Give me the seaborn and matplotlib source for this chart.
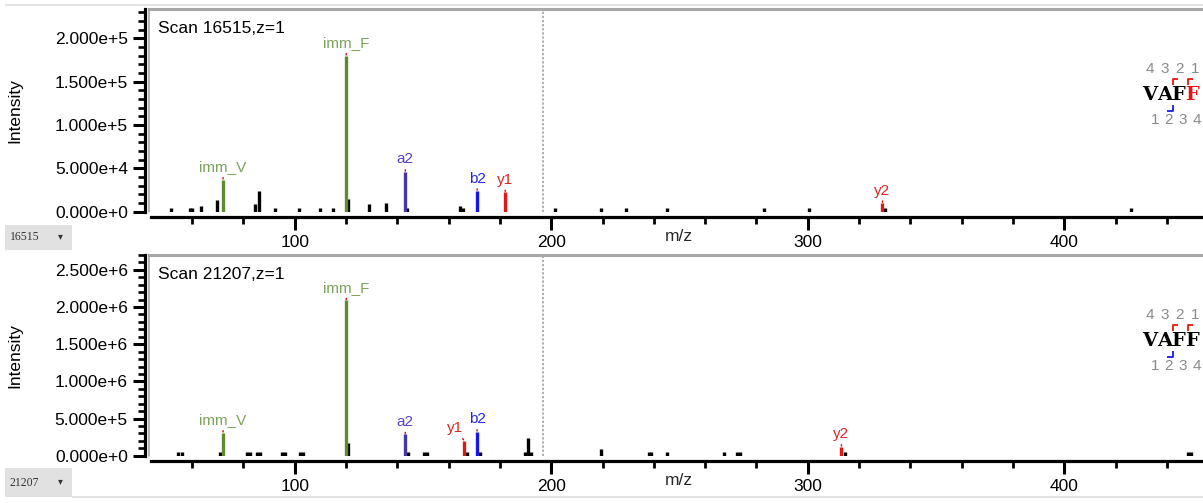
import matplotlib
matplotlib.use("Agg")
import numpy as np
import pandas as pd
import seaborn as sns
import matplotlib.pyplot as plt
from matplotlib.ticker import MultipleLocator, FuncFormatter
from matplotlib.lines import Line2D
from matplotlib.patches import Rectangle

# ---------------- data ----------------
top_scan = "Scan 16515,z=1"
top_id = "16515"
top_other_mz = [51.9, 59.3, 60.1, 63.4, 69.7, 84.4, 86.0, 92.3, 101.7, 109.7, 115.0,
                120.9, 128.8, 135.7, 143.9, 164.6, 165.8, 201.4, 219.3, 229.3, 245.3,
                283.0, 300.4, 330.0, 426.2]
top_other_int = [4.6e3, 4.6e3, 4.6e3, 6.5e3, 1.34e4, 8.4e3, 2.4e4, 4.6e3, 4.6e3, 4.6e3, 4.6e3,
                 1.5e4, 8.4e3, 1.03e4, 4.6e3, 6.5e3, 4.0e3, 4.6e3, 4.6e3, 4.6e3, 4.6e3,
                 4.6e3, 4.6e3, 4.6e3, 4.6e3]
top_ion_label = ["imm_V", "imm_F", "a2", "b2", "y1", "y2"]
top_ion_mz = [72.08, 120.08, 143.12, 171.11, 182.08, 329.15]
top_ion_int = [3.7e4, 1.8e5, 4.6e4, 2.4e4, 2.25e4, 1.0e4]

bot_scan = "Scan 21207,z=1"
bot_id = "21207"
bot_other_mz = [54.6, 55.9, 71.0, 81.3, 82.4, 85.4, 86.6, 95.2, 96.4, 102.2, 103.4,
                120.9, 144.0, 150.4, 151.4, 167.0, 172.1, 189.9, 191.0, 192.1, 219.3,
                238.0, 239.0, 245.3, 267.4, 272.6, 273.7, 314.4, 448.4, 449.4]
bot_other_int = [5.4e4, 5.4e4, 5.4e4, 5.4e4, 5.4e4, 5.4e4, 5.4e4, 5.4e4, 5.4e4, 5.4e4, 5.4e4,
                 1.65e5, 5.4e4, 5.4e4, 5.4e4, 5.4e4, 5.4e4, 5.4e4, 2.42e5, 5.4e4, 8.5e4,
                 5.4e4, 5.4e4, 5.4e4, 5.4e4, 5.4e4, 5.4e4, 5.4e4, 5.4e4, 5.4e4]
bot_ion_label = ["imm_V", "imm_F", "a2", "b2", "y1", "y2"]
bot_ion_mz = [72.08, 120.08, 143.12, 171.11, 166.09, 313.15]
bot_ion_int = [3.1e5, 2.09e6, 2.87e5, 3.23e5, 2.02e5, 1.21e5]

peptide = ["V", "A", "F", "F"]
top_numbers = ["4", "3", "2", "1"]
bottom_numbers = ["1", "2", "3", "4"]
precursor_line_mz = 196.8

x_range = (43.2, 454.1)
top_ylim = (0, 2.337e5)
bot_ylim = (0, 2.70e6)

# ---------------- style ----------------
sns.set_theme(style="ticks")
plt.rcParams["font.family"] = ["Liberation Sans", "DejaVu Sans"]

bar_colors = {"imm": "#5f8b2b", "a": "#4535a8", "b": "#1414f0", "y": "#e01818"}
text_colors = {"imm": "#7ba35a", "a": "#5a42cc", "b": "#2424ee", "y": "#e02424"}

W, H = 1203, 503
fig = plt.figure(figsize=(W / 100, H / 100), dpi=100)
fig.patch.set_facecolor("white")


def fbox(l, t, r, b):
    return [l / W, 1 - b / H, (r - l) / W, (b - t) / H]


def sci(v, pos):
    s = f"{v:.3e}"
    m, e = s.split("e")
    e = int(e)
    return f"{m}e{'+' if e >= 0 else '-'}{abs(e)}"


def ion_kind(lbl):
    if lbl.startswith("imm"):
        return "imm"
    return lbl[0]


def panel(box, scan, other_mz, other_int, ion_lbl, ion_mz, ion_int, ylim, ymaj, ymin,
          offsets):
    ax = fig.add_axes(box)
    ax.set_facecolor("white")
    ax.set_xlim(*x_range)
    ax.set_ylim(*ylim)
    df_o = pd.DataFrame({"mz": other_mz, "int": other_int})
    ax.vlines(df_o["mz"], 0, df_o["int"], color="black", lw=2.4, capstyle="butt", zorder=3)
    df_i = pd.DataFrame({"label": ion_lbl, "mz": ion_mz, "int": ion_int})
    df_i["kind"] = df_i["label"].map(ion_kind)
    for _, r in df_i.iterrows():
        ax.vlines(r["mz"], 0, r["int"], color=bar_colors[r["kind"]], lw=2.4,
                  capstyle="butt", zorder=4)
        dx, dy = offsets.get(r["label"], (0, 6))
        ax.annotate(r["label"], xy=(r["mz"], r["int"]), xytext=(dx, dy),
                    textcoords="offset points", ha="center", va="baseline",
                    fontsize=11, color=text_colors[r["kind"]],
                    arrowprops=dict(arrowstyle="-", color="#d01010", lw=1.0,
                                    linestyle=(0, (1, 1)), shrinkA=0, shrinkB=0))
    ax.axvline(precursor_line_mz, color="#9a9a9a", lw=1.1, linestyle=(0, (1.5, 1.2)),
               zorder=1)
    # spines
    ax.spines["right"].set_visible(False)
    ax.spines["top"].set_color("#a8a8a8")
    ax.spines["top"].set_linewidth(2.2)
    ax.spines["left"].set_color("black")
    ax.spines["left"].set_linewidth(2.3)
    ax.spines["left"].set_position(("outward", 2.6))
    ax.spines["bottom"].set_color("black")
    ax.spines["bottom"].set_linewidth(2.3)
    ax.spines["bottom"].set_position(("outward", 3.6))
    ax.spines["bottom"].set_bounds(x_range[0] + 0.9, x_range[1])
    ax.plot([0, 0], [0, 1], transform=ax.transAxes, color="#a0a0a0", lw=1.1,
            clip_on=False, zorder=5)
    # ticks
    ax.xaxis.set_major_locator(MultipleLocator(100))
    ax.xaxis.set_minor_locator(MultipleLocator(20))
    ax.yaxis.set_major_locator(MultipleLocator(ymaj))
    ax.yaxis.set_minor_locator(MultipleLocator(ymin))
    ax.yaxis.set_major_formatter(FuncFormatter(sci))
    ax.tick_params(axis="y", which="major", length=8.6, width=2.2, direction="out",
                   labelsize=12.5, pad=4, colors="black")
    ax.tick_params(axis="y", which="minor", length=5, width=1.9, direction="out",
                   colors="black")
    ax.tick_params(axis="x", which="major", length=9.4, width=2.2, direction="out",
                   labelsize=12.5, pad=4, colors="black")
    ax.tick_params(axis="x", which="minor", length=5, width=2.0, direction="out",
                   colors="black")
    ax.text(0.0085, 0.905, scan, transform=ax.transAxes, ha="left", va="center",
            fontsize=12.5, color="black")
    ax.annotate("m/z", xy=(0.503, 0), xycoords="axes fraction", xytext=(0, -18),
                textcoords="offset points", ha="center", va="center", fontsize=12.5)
    return ax


top_box = (149, 9, 1203, 211.7)
bot_box = (149, 255, 1203, 455.7)

ax1 = panel(fbox(*top_box), top_scan, top_other_mz, top_other_int, top_ion_label,
            top_ion_mz, top_ion_int, top_ylim, 5e4, 1e4, {})
ax2 = panel(fbox(*bot_box), bot_scan, bot_other_mz, bot_other_int, bot_ion_label,
            bot_ion_mz, bot_ion_int, bot_ylim, 5e5, 1e5, {"y1": (-6.5, 6)})

for (l, t, r, b) in (top_box, bot_box):
    fig.text(15 / W, 1 - ((t + b) / 2) / H, "Intensity", rotation=90, ha="center",
             va="center", fontsize=12.5, color="black")


# ---------------- peptide annotation ----------------
def fx(x):
    return x / W


def fy(y):
    return 1 - y / H


def fline(xs, ys, color, lw=1.3):
    fig.add_artist(Line2D([fx(v) for v in xs], [fy(v) for v in ys],
                          transform=fig.transFigure, color=color, lw=lw,
                          solid_capstyle="butt"))


def draw_peptide(cy, red_last):
    letter_x = [1150, 1164.5, 1178.5, 1192.5]
    top_x = [1150, 1165, 1180, 1195]
    bot_x = [1155, 1168.5, 1183, 1197]
    for i, ch in enumerate(peptide):
        col = "#ee1111" if (red_last and i == len(peptide) - 1) else "black"
        fig.text(fx(letter_x[i]), fy(cy), ch, ha="center", va="center",
                 fontsize=14, fontweight="bold", family="DejaVu Serif", color=col)
        fig.text(fx(top_x[i]), fy(cy - 25.5), top_numbers[i], ha="center", va="center",
                 fontsize=11, color="#8a8a8a")
        fig.text(fx(bot_x[i]), fy(cy + 25), bottom_numbers[i], ha="center", va="center",
                 fontsize=11, color="#8a8a8a")
    for x0 in (1172.7, 1187.5):
        fline([x0, x0, x0 + 5.6], [cy - 9.5, cy - 15.5, cy - 15.5], "#ee1111")
    fline([1166.7, 1172.7, 1172.7], [cy + 16.5, cy + 16.5, cy + 10.5], "#1a1aee")


draw_peptide(94.5, True)
draw_peptide(340.5, False)

# ---------------- widget chrome ----------------
for (y0, y1, label) in ((225, 250, top_id), (468, 497, bot_id)):
    fig.add_artist(Rectangle((fx(5), fy(y1)), (72 - 5) / W, (y1 - y0) / H,
                             transform=fig.transFigure, facecolor="#e1e1e1",
                             edgecolor="none", zorder=0))
    fig.text(fx(10), fy((y0 + y1) / 2), label, ha="left", va="center", fontsize=8.5,
             family="Liberation Serif", color="#333333")
    fig.text(fx(60), fy((y0 + y1) / 2 - 1), "\u25be", ha="center", va="center",
             fontsize=7, family="DejaVu Sans", color="#333333")

fline([5, 1203], [5, 5], "#dddddd", lw=1.2)
fline([72, 1203], [497, 497], "#dddddd", lw=1.2)

fig.savefig("out.png", dpi=100, facecolor="white")
